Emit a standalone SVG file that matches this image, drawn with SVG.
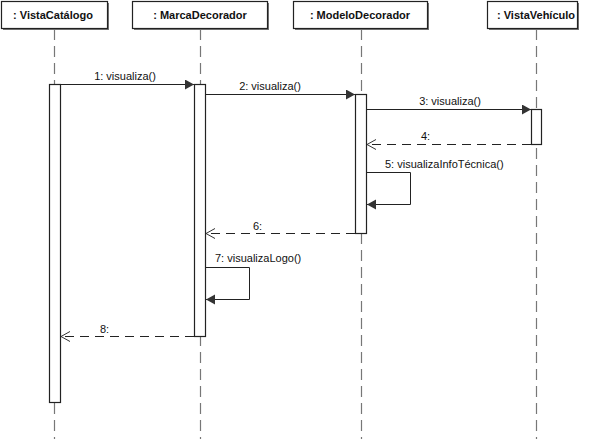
<svg xmlns="http://www.w3.org/2000/svg" width="590" height="439" viewBox="0 0 590 439">
<style>
.hdr{fill:#fff;stroke:#222;stroke-width:1.2}
.shd{fill:#777}
.htxt{font-family:"Liberation Sans",Arial,sans-serif;font-size:11px;font-weight:bold;fill:#111;text-anchor:middle}
.life{stroke:#777;stroke-width:1.2;stroke-dasharray:11,6;fill:none}
.bar{fill:#fff;stroke:#222;stroke-width:1.2}
.msg{stroke:#222;stroke-width:1;fill:none}
.ret{stroke:#222;stroke-width:1.2;fill:none;stroke-dasharray:9,6}
.lbl{font-family:"Liberation Sans",Arial,sans-serif;font-size:11px;fill:#111}
</style>
<defs>
<marker id="fill" markerUnits="userSpaceOnUse" markerWidth="10" markerHeight="12" refX="9" refY="5" orient="auto">
<path d="M0,0 L9,5 L0,10 z" fill="#333"/>
</marker>
<marker id="open" markerUnits="userSpaceOnUse" markerWidth="10" markerHeight="12" refX="9" refY="5" orient="auto">
<path d="M0,0 L9,5 L0,10" fill="none" stroke="#333" stroke-width="1"/>
</marker>
</defs>
<rect width="590" height="439" fill="#fff"/>
<g id="lifelines">
<line class="life" x1="54.5" y1="29" x2="54.5" y2="439"/>
<line class="life" x1="200.5" y1="29" x2="200.5" y2="439"/>
<line class="life" x1="361.5" y1="29" x2="361.5" y2="439"/>
<line class="life" x1="536.5" y1="29" x2="536.5" y2="439"/>
</g>
<g id="VistaCatalogo">
<rect class="shd" x="3" y="3" width="106" height="27"/>
<rect class="hdr" x="1.5" y="1.5" width="106" height="27"/>
<text class="htxt" x="53" y="19">: VistaCatálogo</text>
<rect class="bar" x="49.5" y="84.5" width="11" height="318"/>
</g>
<g id="MarcaDecorador">
<rect class="shd" x="134" y="3" width="135" height="27"/>
<rect class="hdr" x="132.5" y="1.5" width="135" height="27"/>
<text class="htxt" x="200" y="19">: MarcaDecorador</text>
<rect class="bar" x="194.5" y="84.5" width="11" height="252"/>
</g>
<g id="ModeloDecorador">
<rect class="shd" x="295" y="3" width="134" height="27"/>
<rect class="hdr" x="293.5" y="1.5" width="134" height="27"/>
<text class="htxt" x="360" y="19">: ModeloDecorador</text>
<rect class="bar" x="355.5" y="94.5" width="11" height="139"/>
</g>
<g id="VistaVehiculo">
<rect class="shd" x="489" y="3" width="90" height="27"/>
<rect class="hdr" x="487.5" y="1.5" width="90" height="27"/>
<text class="htxt" x="536" y="19">: VistaVehículo</text>
<rect class="bar" x="531.5" y="109.5" width="10" height="35"/>
</g>
<g id="connectors">
<line class="msg" x1="61" y1="84.5" x2="194" y2="84.5" marker-end="url(#fill)"/>
<text class="lbl" x="125" y="80" text-anchor="middle">1: visualiza()</text>
<line class="msg" x1="206" y1="94.5" x2="355" y2="94.5" marker-end="url(#fill)"/>
<text class="lbl" x="270" y="90" text-anchor="middle">2: visualiza()</text>
<line class="msg" x1="367" y1="109.5" x2="531" y2="109.5" marker-end="url(#fill)"/>
<text class="lbl" x="450" y="105" text-anchor="middle">3: visualiza()</text>
<line class="ret" x1="531" y1="144.5" x2="367" y2="144.5" marker-end="url(#open)"/>
<text class="lbl" x="421" y="140">4:</text>
<polyline class="msg" points="367,172.5 410.5,172.5 410.5,204.5 367,204.5" marker-end="url(#fill)"/>
<text class="lbl" x="385" y="168">5: visualizaInfoTécnica()</text>
<line class="ret" x1="355" y1="233.5" x2="206" y2="233.5" marker-end="url(#open)"/>
<text class="lbl" x="253" y="230">6:</text>
<polyline class="msg" points="206,267.5 249.5,267.5 249.5,299.5 206,299.5" marker-end="url(#fill)"/>
<text class="lbl" x="215" y="262">7: visualizaLogo()</text>
<line class="ret" x1="194" y1="336.5" x2="61" y2="336.5" marker-end="url(#open)"/>
<text class="lbl" x="100" y="333">8:</text>
</g>
</svg>
